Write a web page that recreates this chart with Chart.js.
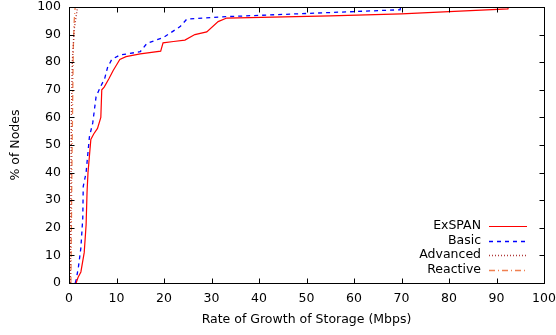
<!DOCTYPE html>
<html>
<head>
<meta charset="utf-8">
<script src="https://cdn.jsdelivr.net/npm/chart.js@4.4.0/dist/chart.umd.min.js"></script>
<style>
  html, body { margin: 0; padding: 0; background: #fff; }
  #wrap { width: 556px; height: 335px; }
</style>
</head>
<body>
<div id="wrap"><canvas id="chart" width="556" height="335"></canvas></div>
<script>
// valeurs (x en Mbps, y en % de noeuds)
const exspanX = [1.5, 1.9, 2.5, 3.2, 3.6, 3.8, 4.0, 4.6, 5.2, 6.0, 6.7, 6.9, 7.4, 8.4, 9.3, 10.0, 10.7, 12, 15, 19.3, 19.8, 22, 24.4, 26.5, 29, 31.4, 33.2, 55, 70, 80, 92.4, 92.5];
const exspanY = [0, 2, 4, 11, 21, 33, 40, 52, 54, 56, 60, 70, 71, 74, 77, 79, 81, 82, 83, 84, 87, 87.5, 88, 90, 91, 94.7, 96, 96.8, 97.5, 98.3, 99.3, 100];

const basicX = [1.3, 1.5, 2, 2.5, 2.9, 3.0, 3.6, 4.3, 5, 5.7, 6.6, 7.5, 8.1, 9, 10.7, 15, 16.4, 19.9, 23.4, 24.8, 33.2, 55, 69.7, 69.8];
const basicY = [0, 1, 6, 12.7, 23.5, 35, 40, 53, 58, 67.5, 71, 74, 78, 81, 82.6, 83.8, 86.8, 89, 92.9, 95.6, 96.5, 98, 99, 100];

const advancedX = [0.3, 0.4, 0.5, 0.7, 1.1, 1.8];
const advancedY = [0, 30, 60, 80, 92, 100];

const reactiveX = [0.4, 0.6, 0.8, 0.9, 1.1, 1.3];
const reactiveY = [0, 40, 70, 85, 95, 100];

const seriesNames = ['ExSPAN', 'Basic', 'Advanced', 'Reactive'];
const xTicks = [0, 10, 20, 30, 40, 50, 60, 70, 80, 90, 100];
const yTicks = [0, 10, 20, 30, 40, 50, 60, 70, 80, 90, 100];

const FONT = 'DejaVu Sans';
const FSIZE = 12.5;

function toPoints(xs, ys) {
    return xs.map((x, i) => ({ x: x, y: ys[i] }));
}

function makeSet(label, xs, ys, color, dash, width) {
    return {
        label: label,
        data: toPoints(xs, ys),
        borderColor: color,
        backgroundColor: color,
        borderWidth: width,
        borderDash: dash,
        pointRadius: 0,
        tension: 0,
        fill: false
    };
}

// cadre, graduations vers l'intérieur (style gnuplot) et légende
const gnuplotFrame = {
    id: 'gnuplotFrame',
    afterDraw(chart) {
        const ctx = chart.ctx;
        const a = chart.chartArea;
        const xs = chart.scales.x;
        const ys = chart.scales.y;
        const L = Math.round(a.left) + 0.5, R = Math.round(a.right) + 0.5;
        const T = Math.round(a.top) + 0.5, B = Math.round(a.bottom) + 0.5;
        const tick = 5;

        ctx.save();
        ctx.strokeStyle = '#000';
        ctx.lineWidth = 1;
        ctx.setLineDash([]);
        ctx.beginPath();
        xTicks.forEach(v => {
            const px = Math.round(xs.getPixelForValue(v)) + 0.5;
            ctx.moveTo(px, B); ctx.lineTo(px, B - tick);
            ctx.moveTo(px, T); ctx.lineTo(px, T + tick);
        });
        yTicks.forEach(v => {
            const py = Math.round(ys.getPixelForValue(v)) + 0.5;
            ctx.moveTo(L, py); ctx.lineTo(L + tick, py);
            ctx.moveTo(R, py); ctx.lineTo(R - tick, py);
        });
        ctx.stroke();
        ctx.strokeRect(L, T, R - L, B - T);

        // légende
        const textRight = a.right - 63;
        const x0 = a.right - 55, x1 = a.right - 17;
        ctx.font = FSIZE + 'px "' + FONT + '"';
        ctx.textAlign = 'right';
        ctx.textBaseline = 'middle';
        chart.data.datasets.forEach((ds, i) => {
            const y = Math.round(a.bottom - 57 + i * 14.7);
            ctx.fillStyle = '#000';
            ctx.fillText(ds.label, textRight, y);
            ctx.strokeStyle = ds.borderColor;
            ctx.lineWidth = ds.borderWidth;
            ctx.setLineDash(ds.borderDash || []);
            ctx.beginPath();
            ctx.moveTo(x0, y + 0.5);
            ctx.lineTo(x1, y + 0.5);
            ctx.stroke();
        });
        ctx.restore();
    }
};

const ctx = document.getElementById('chart').getContext('2d');
new Chart(ctx, {
    type: 'scatter',
    data: {
        datasets: [
            makeSet(seriesNames[0], exspanX, exspanY, '#ff0000', [], 1.2),
            makeSet(seriesNames[1], basicX, basicY, '#0000ff', [4, 4], 1.3),
            makeSet(seriesNames[2], advancedX, advancedY, '#b03a3a', [1, 2], 1.4),
            makeSet(seriesNames[3], reactiveX, reactiveY, '#f08050', [6, 3, 1, 3], 1.3)
        ]
    },
    options: {
        responsive: false,
        animation: false,
        showLine: true,
        layout: { padding: { left: 0, right: 12, top: 7, bottom: 0 } },
        plugins: {
            legend: { display: false },
            tooltip: { enabled: false }
        },
        scales: {
            x: {
                type: 'linear',
                min: 0,
                max: 100,
                afterFit: (scale) => {
                    scale.height = 52;
                    scale.paddingLeft = 0;
                    scale.paddingRight = 0;
                },
                afterBuildTicks: (scale) => { scale.ticks = xTicks.map(v => ({ value: v })); },
                grid: { display: false, drawTicks: false },
                border: { display: false },
                ticks: {
                    padding: 8,
                    maxRotation: 0,
                    color: '#000',
                    font: { family: FONT, size: FSIZE }
                },
                title: {
                    display: true,
                    text: 'Rate of Growth of Storage (Mbps)',
                    color: '#000',
                    font: { family: FONT, size: FSIZE },
                    padding: { top: 0, bottom: 8 }
                }
            },
            y: {
                type: 'linear',
                min: 0,
                max: 100,
                afterFit: (scale) => {
                    scale.width = 69;
                    scale.paddingTop = 0;
                    scale.paddingBottom = 0;
                },
                afterBuildTicks: (scale) => { scale.ticks = yTicks.map(v => ({ value: v })); },
                grid: { display: false, drawTicks: false },
                border: { display: false },
                ticks: {
                    padding: 8,
                    color: '#000',
                    font: { family: FONT, size: FSIZE }
                },
                title: {
                    display: true,
                    text: '% of Nodes',
                    color: '#000',
                    font: { family: FONT, size: FSIZE },
                    padding: { top: 8, bottom: 0 }
                }
            }
        }
    },
    plugins: [gnuplotFrame]
});
</script>
</body>
</html>
